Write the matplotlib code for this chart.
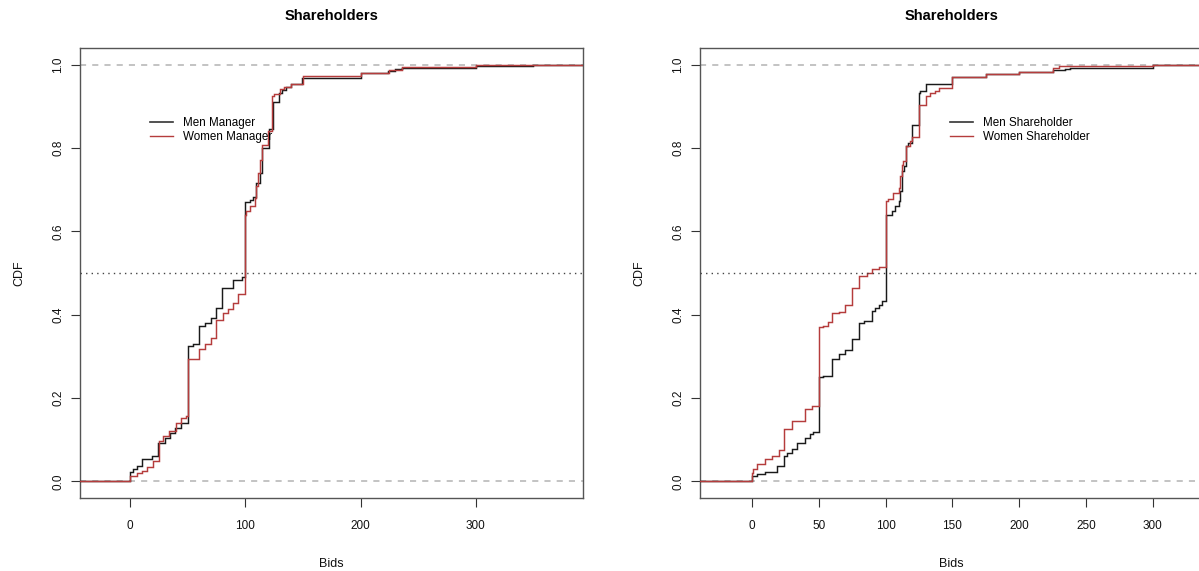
import numpy as np
import matplotlib
matplotlib.use("Agg")
import matplotlib.pyplot as plt

plt.rcParams['font.family'] = ['Liberation Sans', 'DejaVu Sans']

# ---------------- data (ECDF step locations and levels) ----------------
# Left panel: managers
men_mgr_x = [0, 3, 6, 10, 19.5, 24.6, 30, 35, 39, 44, 50, 55, 60, 65, 70, 75, 80, 89, 97,
             100, 104, 107, 109.6, 112.5, 114.6, 120.6, 124, 129, 132, 135.6, 140, 149,
             200, 224, 230, 236, 300, 350]
men_mgr_y = [0.022, 0.030, 0.038, 0.053, 0.060, 0.093, 0.105, 0.115, 0.129, 0.141, 0.325, 0.330,
             0.374, 0.381, 0.393, 0.417, 0.465, 0.483, 0.490,
             0.670, 0.675, 0.683, 0.716, 0.740, 0.800, 0.845, 0.910, 0.932, 0.940, 0.946, 0.953, 0.968,
             0.980, 0.984, 0.990, 0.992, 0.996, 1.0]

women_mgr_x = [0, 6, 10, 14.5, 20, 25, 28.6, 34, 40, 44, 48.6, 50, 60, 65, 70, 75, 81, 85, 89.4, 94,
               100, 101, 104, 108, 109.5, 111, 113, 114.6, 119.7, 123.5, 125, 130, 134, 140, 150,
               200, 225, 236, 300]
women_mgr_y = [0.013, 0.020, 0.025, 0.034, 0.049, 0.097, 0.108, 0.120, 0.140, 0.153, 0.158, 0.294,
               0.317, 0.329, 0.345, 0.388, 0.404, 0.414, 0.428, 0.450,
               0.640, 0.648, 0.660, 0.680, 0.708, 0.740, 0.772, 0.808, 0.840, 0.924, 0.930, 0.942,
               0.946, 0.954, 0.974, 0.979, 0.988, 0.995, 1.0]

# Right panel: shareholders
men_sh_x = [0, 3.5, 10, 19, 24, 26.5, 30, 34, 40, 43.5, 46, 50, 53.5, 60, 65, 70, 75, 80, 83.5,
            90, 92, 95, 97, 100, 105, 107, 110, 111, 112, 114, 115, 117, 120, 125, 126, 130.5,
            150, 175, 200, 225, 234, 238, 300]
men_sh_y = [0.013, 0.017, 0.022, 0.038, 0.062, 0.069, 0.078, 0.091, 0.105, 0.113, 0.118, 0.251,
            0.254, 0.294, 0.305, 0.315, 0.342, 0.380, 0.386, 0.408, 0.416, 0.424, 0.432, 0.640,
            0.648, 0.660, 0.672, 0.696, 0.744, 0.756, 0.806, 0.812, 0.855, 0.932, 0.936, 0.954,
            0.970, 0.978, 0.982, 0.988, 0.990, 0.993, 1.0]

women_sh_x = [0, 1, 3.5, 10, 15, 20, 24, 30, 40, 45, 50, 53.5, 57, 60, 65, 70, 75, 80, 86, 90, 95,
              100, 102, 105.5, 110, 110.5, 112, 113, 115.5, 118, 120, 125, 130.5, 133.5, 137, 140,
              150, 175, 200, 225, 230, 300]
women_sh_y = [0.021, 0.029, 0.041, 0.054, 0.062, 0.075, 0.125, 0.145, 0.173, 0.181, 0.371, 0.374,
              0.382, 0.403, 0.406, 0.424, 0.464, 0.492, 0.500, 0.510, 0.515, 0.672, 0.678, 0.692,
              0.704, 0.732, 0.760, 0.768, 0.806, 0.818, 0.826, 0.904, 0.924, 0.932, 0.938, 0.944,
              0.970, 0.978, 0.982, 0.993, 0.997, 1.0]

titles = ["Shareholders", "Shareholders"]
left_labels = ["Men Manager", "Women Manager"]
right_labels = ["Men Shareholder", "Women Shareholder"]
left_xticks = [0, 100, 200, 300]
right_xticks = [0, 50, 100, 150, 200, 250, 300]
yticks = [0.0, 0.2, 0.4, 0.6, 0.8, 1.0]

BLACK = '#1a1a1a'
RED = '#b53c3c'

W, H = 1199, 571
fig = plt.figure(figsize=(W / 100, H / 100), dpi=100)

def px_axes(x0, x1, ytop, ybot):
    return fig.add_axes([x0 / W, 1 - ybot / H, (x1 - x0) / W, (ybot - ytop) / H])

axL = px_axes(80, 583, 48, 498)
axR = px_axes(700, 1203, 48, 498)

def ecdf_line(ax, xs, ys, xlim, color, lw):
    xx = np.concatenate([[xlim[0]], np.asarray(xs, float), [xlim[1]]])
    yy = np.concatenate([[0.0], np.asarray(ys, float), [ys[-1]]])
    ax.step(xx, yy, where='post', color=color, lw=lw, solid_joinstyle='miter', zorder=3)

def panel(ax, xlim, xticks, s1, s2, labels, title, leg_anchor):
    ax.set_xlim(*xlim)
    ax.set_ylim(-0.04, 1.04)
    ax.axhline(0, color='#b3b3b3', ls=(0, (4, 4)), lw=1.1, zorder=1)
    ax.axhline(1, color='#b3b3b3', ls=(0, (4, 4)), lw=1.1, zorder=1)
    ecdf_line(ax, s1[0], s1[1], xlim, BLACK, 1.05)
    ecdf_line(ax, s2[0], s2[1], xlim, RED, 1.05)
    ax.axhline(0.5, color='#444444', ls=(0, (1, 3)), lw=1.0, zorder=4)
    ax.set_xticks(xticks)
    ax.set_xticklabels([str(t) for t in xticks])
    ax.set_yticks(yticks)
    ax.set_yticklabels([f"{t:.1f}" for t in yticks], rotation=90, va='center')
    ax.tick_params(axis='both', direction='out', length=6.5, width=0.8, color='#333333',
                   labelsize=8.5, labelcolor='#111111')
    ax.tick_params(axis='x', pad=9)
    ax.tick_params(axis='y', pad=5)
    for sp in ax.spines.values():
        sp.set_color('#555555')
        sp.set_linewidth(1.0)
    ax.set_xlabel("Bids", fontsize=9, labelpad=19, color='#111111')
    ax.set_ylabel("CDF", fontsize=9, labelpad=19, color='#111111')
    ax.set_title(title, fontsize=10.5, fontweight='bold', pad=20)
    h1 = plt.Line2D([], [], color='#333333', lw=1.2)
    h2 = plt.Line2D([], [], color=RED, lw=1.0)
    ax.legend([h1, h2], labels, loc='upper left', bbox_to_anchor=leg_anchor, frameon=False,
              fontsize=8.4, handlelength=1.95, handletextpad=0.85, labelspacing=0.18,
              borderpad=0, borderaxespad=0)

panel(axL, (-43.4, 393.0), left_xticks, (men_mgr_x, men_mgr_y), (women_mgr_x, women_mgr_y),
      left_labels, titles[0], (0.139, 0.847))
panel(axR, (-38.9, 337.6), right_xticks, (men_sh_x, men_sh_y), (women_sh_x, women_sh_y),
      right_labels, titles[1], (0.497, 0.847))

fig.savefig("out.png", dpi=100)
